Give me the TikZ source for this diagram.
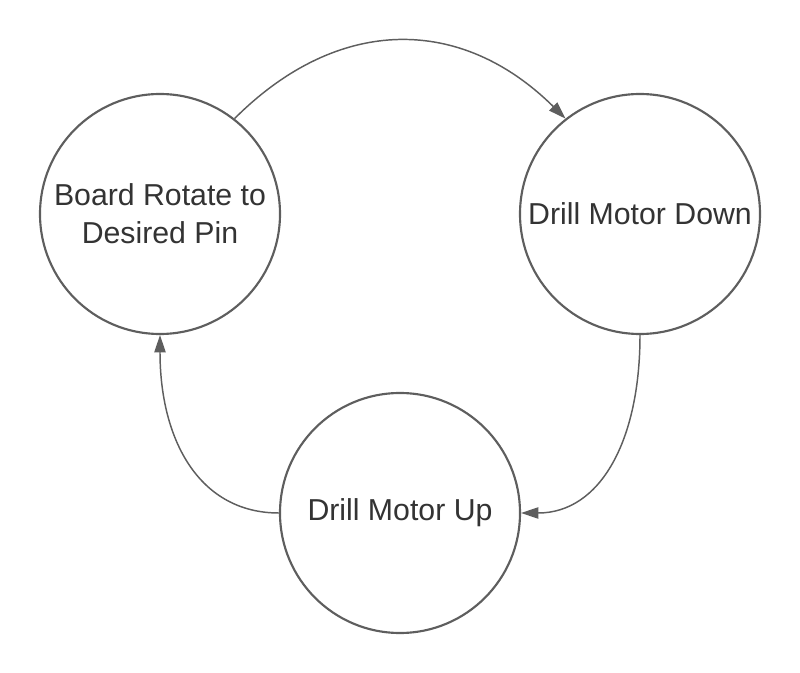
\documentclass[tikz,border=0pt]{standalone}
\usepackage{fontspec}
\setmainfont{Liberation Sans}
\usetikzlibrary{arrows.meta}
\definecolor{linegray}{HTML}{5E5E5E}
\definecolor{textgray}{HTML}{333333}
\begin{document}
\begin{tikzpicture}[x=0.75pt,y=-0.75pt,
  state/.style={circle,draw=linegray,line width=1.6pt,minimum size=180pt,inner sep=0pt,
    text=textgray,align=center,font=\fontsize{22.7pt}{28.5pt}\selectfont},
  link/.style={draw=linegray,line width=1.1pt,-{Triangle[length=13pt,width=8.5pt]}}]
\useasboundingbox (0,0) rectangle (800,673);
\node[state] (b) at (160,214) {Board Rotate to\\Desired Pin};
\node[state] (d) at (640,214) {Drill Motor Down};
\node[state] (u) at (400,513) {Drill Motor Up};
\draw[link] (b.52) .. controls +(104,-104) and +(-104,-103) .. (d.128);
\draw[link] (d.south) .. controls +(0,106) and +(79,0) .. (u.east);
\draw[link] (u.west) .. controls +(-79,0) and +(0,106) .. (b.south);
\end{tikzpicture}
\end{document}
